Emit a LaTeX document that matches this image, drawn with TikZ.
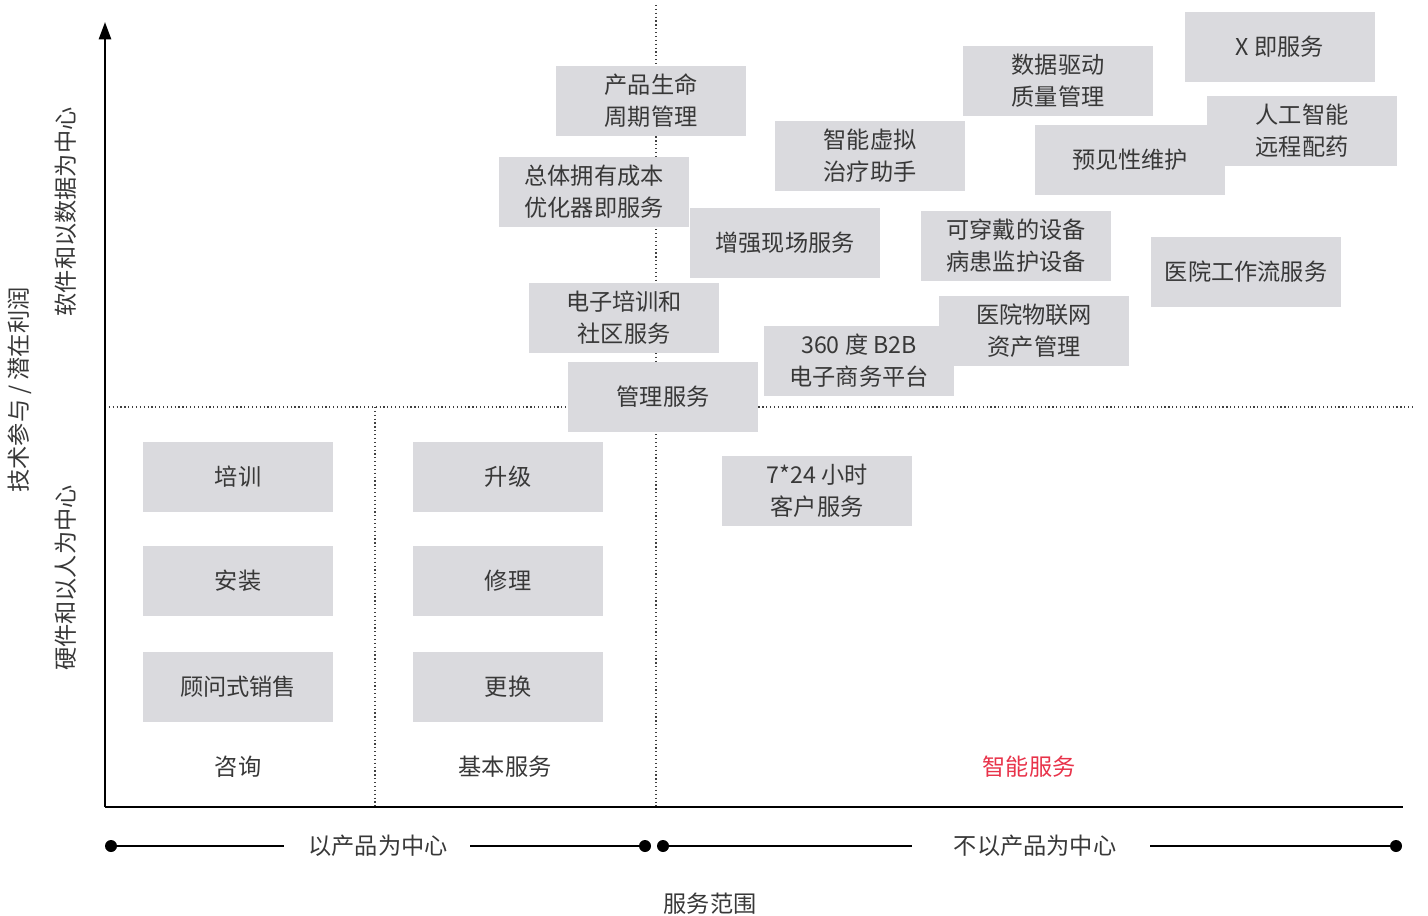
\documentclass[tikz,border=0pt]{standalone}
\usepackage{fontspec}
\setmainfont{Noto Sans CJK SC}
\usetikzlibrary{arrows.meta}
\definecolor{boxgray}{HTML}{DADADE}
\definecolor{txt}{HTML}{383838}
\definecolor{accent}{HTML}{E8334A}
\begin{document}
\begin{tikzpicture}[x=0.75pt,y=-0.75pt,
  every node/.style={text=txt,font=\fontsize{17.4}{24}\selectfont},
  box/.style={fill=boxgray,minimum width=142.5pt,minimum height=52.5pt,inner sep=0pt,align=center},
  guide/.style={dotted,line width=0.9pt,draw=black!75},
  axis/.style={line width=1.9pt,draw=black},
  scale line/.style={line width=1.5pt,draw=black},
  enddot/.style={circle,fill=black,inner sep=0pt,minimum size=9pt}]
\useasboundingbox (0,0) rectangle (1428,916);
% guides
\coordinate (gtop) at (656,5);
\coordinate (gbot) at (656,807);
\coordinate (hl) at (105,407);
\coordinate (hr) at (1412,407);
\coordinate (g2t) at (375,407);
\coordinate (g2b) at (375,807);
\draw[guide] (gtop) -- (gbot);
\draw[guide] (hl) -- (hr);
\draw[guide] (g2t) -- (g2b);
% boxes
\node[box] (plm) at (651,101) {产品生命\\周期管理};
\node[box] (tco) at (594,192) {总体拥有成本\\优化器即服务};
\node[box] (fs) at (785,243) {增强现场服务};
\node[box] (elearn) at (624,318) {电子培训和\\社区服务};
\node[box] (ms) at (663,397) {管理服务};
\node[box] (b2b) at (859,361) {360 度 B2B\\电子商务平台};
\node[box] (cs) at (817,491) {7*24 小时\\客户服务};
\node[box] (vt) at (870,156) {智能虚拟\\治疗助手};
\node[box] (dq) at (1058,81) {数据驱动\\质量管理};
\node[box] (xaas) at (1280,47) {X 即服务};
\node[box] (pm) at (1130,160) {预见性维护};
\node[box] (ai) at (1302,131) {人工智能\\远程配药};
\node[box] (wear) at (1016,246) {可穿戴的设备\\病患监护设备};
\node[box] (hw) at (1246,272) {医院工作流服务};
\node[box] (iot) at (1034,331) {医院物联网\\资产管理};
\node[box] (train) at (238,477) {培训};
\node[box] (inst) at (238,581) {安装};
\node[box] (sales) at (238,687) {顾问式销售};
\node[box] (upg) at (508,477) {升级};
\node[box] (rep) at (508,581) {修理};
\node[box] (repl) at (508,687) {更换};
% category labels
\node (c1) at (238,767) {咨询};
\node (c2) at (505,767) {基本服务};
\node[text=accent] (c3) at (1029,767) {智能服务};
% axes
\coordinate (o) at (105,807);
\coordinate (ytop) at (105,22);
\coordinate (xend) at (1403,807);
\draw[axis,-{Triangle[length=13pt,width=9pt]}] (o) -- (ytop);
\draw[axis] (o) -- (xend);
% y labels
\node[rotate=90] (yl) at (20,390) {技术参与 / 潜在利润};
\node[rotate=90] (ya) at (66,212) {软件和以数据为中心};
\node[rotate=90] (yb) at (66,578) {硬件和以人为中心};
% bottom scale
\node[enddot] (d1) at (111,846) {};
\node[enddot] (d2) at (645,846) {};
\node[enddot] (d3) at (663,846) {};
\node[enddot] (d4) at (1396,846) {};
\node (pc) at (378,846) {以产品为中心};
\node (npc) at (1035,846) {不以产品为中心};
\coordinate (l1e) at (284,846);
\coordinate (l2s) at (470,846);
\coordinate (l3e) at (912,846);
\coordinate (l4s) at (1150,846);
\draw[scale line] (d1) -- (l1e);
\draw[scale line] (l2s) -- (d2);
\draw[scale line] (d3) -- (l3e);
\draw[scale line] (l4s) -- (d4);
\node (xl) at (710,904) {服务范围};
\end{tikzpicture}
\end{document}
